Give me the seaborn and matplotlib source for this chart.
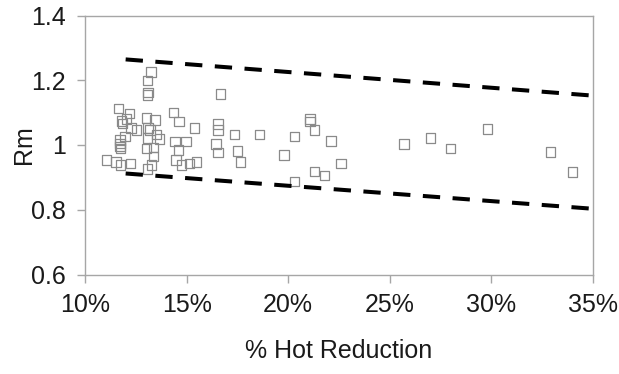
import matplotlib
matplotlib.use("Agg")
import matplotlib.pyplot as plt
import seaborn as sns
import pandas as pd

# Data (x in % hot reduction, y = Rm)
hot_reduction = [
    13.25, 13.07, 13.10, 13.07, 16.68,
    11.64, 12.18, 13.03, 13.44, 14.35, 14.63, 15.38,
    11.80, 12.05, 11.85, 12.26, 12.54, 13.10, 13.20, 13.53, 13.66,
    11.97, 11.72, 11.72, 11.72, 11.75,
    13.08, 13.03, 13.36, 14.43, 14.97, 14.60, 13.36,
    11.07, 11.53, 11.75, 12.25, 13.28, 13.08, 14.48, 14.75, 15.13, 15.50,
    16.55, 16.55, 17.37, 16.45, 16.55, 17.50, 17.66,
    18.60, 20.30, 19.80, 21.07, 21.07, 21.30, 22.10, 22.60, 20.30, 21.30, 21.80,
    25.70, 27.00, 28.00, 29.80, 32.90, 34.00,
]
rm = [
    1.225, 1.200, 1.163, 1.155, 1.157,
    1.113, 1.098, 1.084, 1.077, 1.101, 1.072, 1.052,
    1.074, 1.080, 1.067, 1.053, 1.046, 1.053, 1.046, 1.033, 1.019,
    1.026, 1.015, 1.005, 0.995, 0.990,
    1.021, 0.990, 0.993, 1.010, 1.010, 0.985, 0.964,
    0.954, 0.947, 0.938, 0.943, 0.938, 0.926, 0.954, 0.938, 0.943, 0.948,
    1.065, 1.046, 1.033, 1.003, 0.976, 0.981, 0.947,
    1.033, 1.026, 0.969, 1.080, 1.072, 1.046, 1.013, 0.943, 0.887, 0.918, 0.905,
    1.003, 1.021, 0.989, 1.050, 0.979, 0.916,
]
bound_x = [12.0, 35.0]
upper_bound = [1.2644, 1.1525]
lower_bound = [0.912, 0.803]

x_ticks = [10, 15, 20, 25, 30, 35]
x_tick_labels = ["10%", "15%", "20%", "25%", "30%", "35%"]
y_ticks = [0.6, 0.8, 1.0, 1.2, 1.4]
y_tick_labels = ["0.6", "0.8", "1", "1.2", "1.4"]

sns.set_theme(style="white")
plt.rcParams["font.family"] = ["Liberation Sans", "DejaVu Sans"]

fig = plt.figure(figsize=(6.19, 3.74), dpi=100)
ax = fig.add_axes([85 / 619, 1 - 274.5 / 374, (593 - 85) / 619, (274.5 - 15.5) / 374])

pts = pd.DataFrame({"x": hot_reduction, "y": rm})
sns.scatterplot(data=pts, x="x", y="y", ax=ax, marker="s", s=46,
                facecolor="none", edgecolor="#8a8a8a", linewidth=0.9, zorder=3)

bounds = pd.DataFrame({"x": bound_x, "upper": upper_bound, "lower": lower_bound})
for col in ["upper", "lower"]:
    sns.lineplot(data=bounds, x="x", y=col, ax=ax, color="black", linewidth=2.9,
                 linestyle=(0, (4.3, 3.1)), zorder=4)

ax.set_xlim(10, 35)
ax.set_ylim(0.6, 1.4)
ax.set_xticks(x_ticks)
ax.set_xticklabels(x_tick_labels)
ax.set_yticks(y_ticks)
ax.set_yticklabels(y_tick_labels)

for s in ax.spines.values():
    s.set_visible(True)
    s.set_color("#a6a6a6")
    s.set_linewidth(1.0)

ax.tick_params(axis="both", which="major", direction="out", length=6,
               width=1.0, color="#a6a6a6", labelsize=18, labelcolor="#1a1a1a",
               bottom=True, left=True)
ax.tick_params(axis="y", pad=8)
ax.tick_params(axis="x", pad=7)

ax.set_xlabel("% Hot Reduction", fontsize=18, color="#1a1a1a")
ax.set_ylabel("Rm", fontsize=18, color="#1a1a1a")
ax.xaxis.set_label_coords(0.5, -0.25)
ax.yaxis.set_label_coords(-0.097, 0.5)
ax.grid(False)

fig.savefig("out.png", dpi=100)
